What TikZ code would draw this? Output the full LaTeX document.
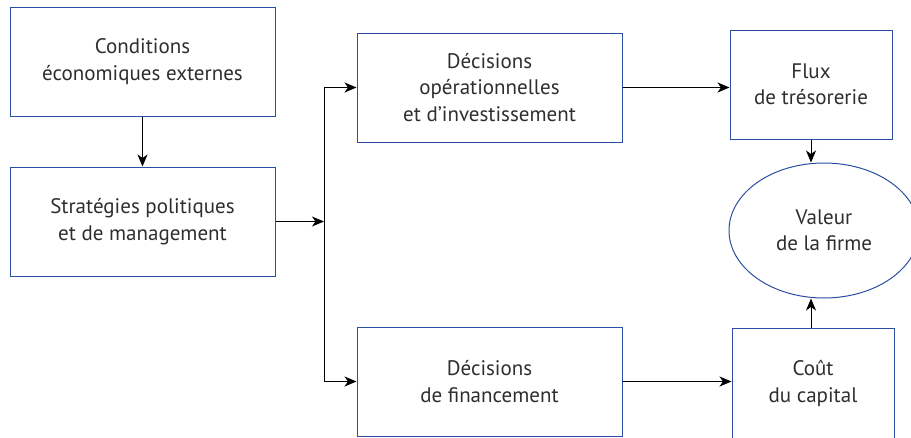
\documentclass[tikz,border=0pt]{standalone}
\usepackage{fontspec}
\setmainfont{PT Sans}
\usetikzlibrary{arrows.meta,shapes.geometric}
\tikzset {>={Stealth[length=12pt,width=10pt,inset=3.5pt]}}
\definecolor{boxblue}{HTML}{2B4EA2}
\definecolor{textgray}{HTML}{2E2E2E}
\tikzset{
  block/.style={draw=boxblue,line width=1pt,minimum width=265pt,minimum height=109pt,
    align=center,text=textgray,font=\fontsize{21pt}{26.5pt}\selectfont},
  smallblock/.style={block,minimum width=162pt},
  oval/.style={block,ellipse,minimum width=190pt,minimum height=135pt,inner sep=0pt},
  link/.style={->,line width=1pt}
}

\begin{document}
\begin{tikzpicture}[x=1pt,y=-1pt]
\useasboundingbox (0,0) rectangle (911,437);
\clip (0,0) rectangle (911,437);

% Draw left column
\node[block] (cond)  at (142.5,61.5)  {Conditions\\économiques externes};
\node[block] (strat) at (142.5,221.5) {Stratégies politiques\\et de management};
\draw[link] (cond) -- (strat);

% Draw the two decision boxes
\node[block] (decop)  at (489.5,87.5)  {Décisions\\opérationnelles\\et d’investissement};
\node[block] (decfin) at (489.5,381.5) {Décisions\\de financement};

% Split from strategies to both decisions
\coordinate (split) at (324,221.5);
\draw[link] (strat) -- (split);
\draw[link] (split) |- (decop);
\draw[link] (split) |- (decfin);

% Draw right column
\node[smallblock] (flux)   at (811,84.5)  {Flux\\de trésorerie};
\node[oval]       (valeur) at (824,230.5) {Valeur\\de la firme};
\node[smallblock,minimum height=111pt] (cout) at (813,383.5) {Coût\\du capital};
\draw[link] (decop) -- (decop -| flux.west);
\draw[link] (decfin) -- (decfin -| cout.west);
\draw[link] (flux.south) -- (flux.south |- valeur.north);
\draw[link] (flux.south |- cout.north) -- (flux.south |- valeur.south);
\end{tikzpicture}
\end{document}
